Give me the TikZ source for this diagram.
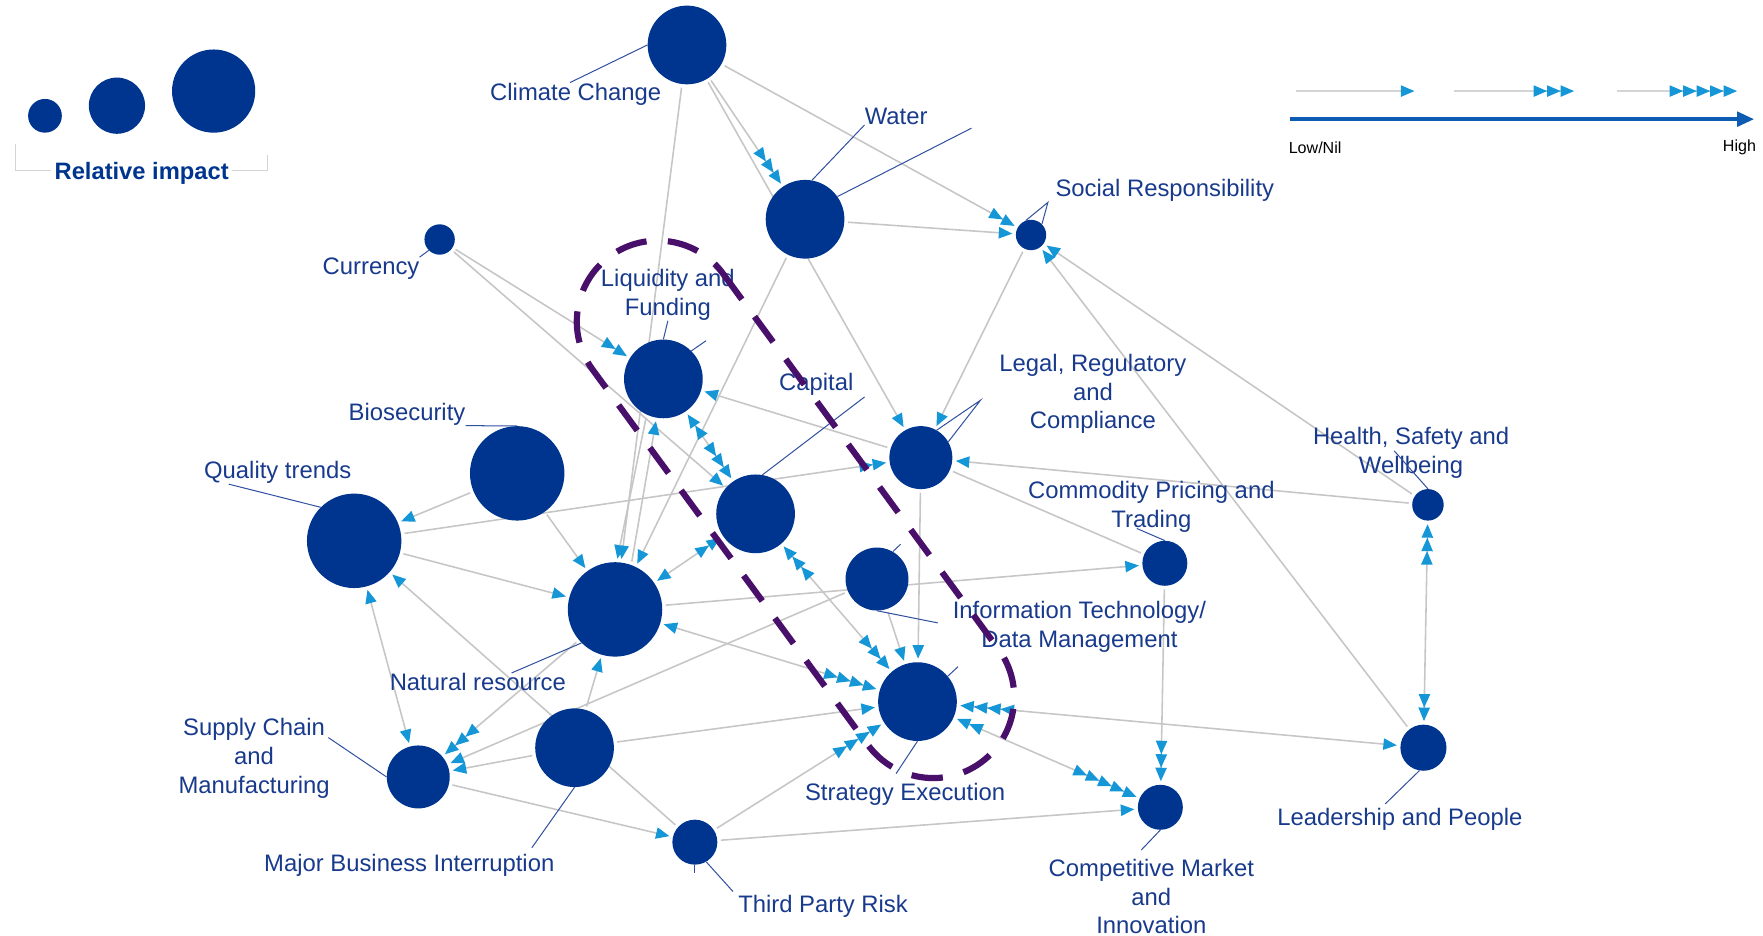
\documentclass[tikz,border=0pt]{standalone}
\usepackage{fontspec}
\setmainfont{Liberation Sans}
\usetikzlibrary{arrows.meta, backgrounds}

\definecolor{riskblue}{RGB}{0,53,143}
\definecolor{lblblue}{RGB}{24,58,140}
\definecolor{leadblue}{RGB}{50,80,160}
\definecolor{edgegrey}{RGB}{198,198,198}
\definecolor{tipblue}{RGB}{20,150,215}
\definecolor{loopviolet}{RGB}{72,16,106}
\definecolor{scaleblue}{RGB}{12,92,180}
\definecolor{legendgrey}{RGB}{212,212,212}

\begin{document}
\begin{tikzpicture}[x=1pt, y=-1pt,
        >={Triangle[length=12pt, width=10pt, color=tipblue]},
        risk/.style = {circle, fill=riskblue, inner sep=0pt, minimum size=#1},
        lbl/.style = {text=lblblue, align=center, inner sep=0pt, yshift=-2.5pt,
            font=\fontsize{21.2}{25.5}\selectfont},
        edge/.style = {draw=edgegrey, line width=1.4pt, shorten >=3pt, shorten <=3pt},
        lead/.style = {draw=leadblue, line width=0.9pt}]
        \useasboundingbox (0,0) rectangle (1568,832);

        % risks
        \node [risk=70pt] (cc) at (611,40) {};
        \node [risk=70pt] (wat) at (716,195) {};
        \node [risk=27pt] (soc) at (917,209) {};
        \node [risk=27pt] (cur) at (391,213) {};
        \node [risk=70pt] (liq) at (590,337) {};
        \node [risk=70pt] (cap) at (672,457) {};
        \node [risk=56pt] (leg) at (819,407) {};
        \node [risk=84pt] (bio) at (460,421) {};
        \node [risk=84pt] (qua) at (315,481) {};
        \node [risk=84pt] (nat) at (547,542) {};
        \node [risk=56pt] (it) at (780,515) {};
        \node [risk=40pt] (com) at (1036,501) {};
        \node [risk=28pt] (hsw) at (1270,449) {};
        \node [risk=70pt] (str) at (816,624) {};
        \node [risk=70pt] (mbi) at (511,665) {};
        \node [risk=56pt] (sup) at (372,691) {};
        \node [risk=40pt] (tpr) at (618,749) {};
        \node [risk=40pt] (cmi) at (1032,718) {};
        \node [risk=41pt] (lea) at (1266,665) {};

        \node [lbl] (lcc) at (512,81) {Climate Change};
        \node [lbl] (lwat) at (797,101) {Water};
        \node [lbl] (lsoc) at (1036,167) {Social Responsibility};
        \node [lbl] (lcur) at (330,236) {Currency};
        \node [lbl] (lliq) at (594,260) {Liquidity and\\Funding};
        \node [lbl] (lcap) at (726,339) {Capital};
        \node [lbl] (lleg) at (972,348) {Legal, Regulatory\\and\\Compliance};
        \node [lbl] (lbio) at (362,366) {Biosecurity};
        \node [lbl] (lqua) at (247,418) {Quality trends};
        \node [lbl] (lhsw) at (1255,400) {Health, Safety and\\Wellbeing};
        \node [lbl] (lcom) at (1024,448) {Commodity Pricing and\\Trading};
        \node [lbl] (lit) at (960,555) {Information Technology/\\Data Management};
        \node [lbl] (lnat) at (425,604) {Natural resource};
        \node [lbl] (lsup) at (226,672) {Supply Chain\\and\\Manufacturing};
        \node [lbl] (lstr) at (805,704) {Strategy Execution};
        \node [lbl] (llea) at (1245,726) {Leadership and People};
        \node [lbl] (lmbi) at (364,767) {Major Business Interruption};
        \node [lbl] (ltpr) at (732,804) {Third Party Risk};
        \node [lbl] (lcmi) at (1024,795) {Competitive Market\\and\\Innovation};

        \begin{scope}[on background layer]
        \draw [edge, ->>>] (cc) -- (wat);
        \draw [edge, ->] (cc) -- (leg);
        \draw [edge, ->>] (cc) -- (soc);
        \draw [edge, ->] (cc) -- (nat);
        \draw [edge, ->] (wat) -- (soc);
        \draw [edge, ->] (wat) -- (nat);
        \draw [edge, ->] (soc) -- (leg);
        \draw [edge, ->] (hsw) -- (soc);
        \draw [edge, ->] (lea) -- (soc);
        \draw [edge, ->>] (cur) -- (liq);
        \draw [edge, ->] (cur) -- (cap);
        \draw [edge, <<->>>] (liq) -- (cap);
        \draw [edge, ->] (leg) -- (liq);
        \draw [edge, ->] (liq.245) -- (nat.88);
        \draw [edge, ->] (nat.70) -- (liq.260);
        \draw [edge, <<->] (cap) -- (nat);
        \draw [edge, <<<->>>] (cap) -- (str);
        \draw [edge, ->>] (qua) -- (leg);
        \draw [edge, ->] (qua) -- (nat);
        \draw [edge, ->] (bio) -- (nat);
        \draw [edge, ->] (bio) -- (qua);
        \draw [edge, ->] (tpr) -- (qua);
        \draw [edge, <->] (qua) -- (sup);
        \draw [edge, ->>>] (nat) -- (sup);
        \draw [edge, ->] (mbi) -- (nat);
        \draw [edge, ->] (nat) -- (com);
        \draw [edge, <->>>>] (nat) -- (str);
        \draw [edge, ->] (it) -- (sup);
        \draw [edge, ->] (mbi) -- (sup);
        \draw [edge, ->] (sup) -- (tpr);
        \draw [edge, ->>>>] (tpr) -- (str);
        \draw [edge, ->] (tpr) -- (cmi);
        \draw [edge, ->] (mbi) -- (str);
        \draw [edge, ->] (leg) -- (str);
        \draw [edge] (leg) -- (com);
        \draw [edge, ->] (hsw) -- (leg);
        \draw [edge, ->] (it) -- (str);
        \draw [edge, <<<<->] (str) -- (lea);
        \draw [edge, <<->>>>>] (str) -- (cmi);
        \draw [edge, ->>>] (com) -- (cmi);
        \draw [edge, <<<->>] (hsw) -- (lea);
        \end{scope}

        % leaders
        \coordinate (wtail) at (864,114);
        \coordinate (sapex) at (932,180);
        \coordinate (ltick) at (628,303);
        \coordinate (captail) at (769,353);
        \coordinate (lapex) at (872,356);
        \coordinate (suptail) at (292,656);
        \coordinate (mbitail) at (473,754);
        \coordinate (tprtail) at (652,793);
        \coordinate (tprtick) at (618,776);
        \coordinate (strtail) at (797,688);
        \coordinate (strtick) at (852,593);
        \coordinate (ittick) at (801,484);
        \coordinate (ittail) at (834,554);
        \coordinate (comtail) at (1011,470);
        \coordinate (hswtail) at (1240,401);
        \coordinate (leatail) at (1232,715);
        \coordinate (cmitail) at (1015,756);
        \draw [lead] ([xshift=-5pt]lcc.north) -- (cc.west);
        \draw [lead] (lwat.south west) -- (wat.80);
        \draw [lead] (wat.35) -- (wtail);
        \draw [lead] (soc.110) -- (sapex) -- (soc.45);
        \draw [lead] (cur.225) -- (lcur.north east);
        \draw [lead] (lliq.south) -- (liq.north);
        \draw [lead] (liq.45) -- (ltick);
        \draw [lead] (captail) -- (cap.80);
        \draw [lead] (leg.60) -- (lapex) -- (leg.30);
        \draw [lead] (lbio.south east) -- (bio.north);
        \draw [lead] ([xshift=22pt]lqua.south west) -- (qua.135);
        \draw [lead] ([xshift=30pt]lnat.north) -- (nat.225);
        \draw [lead] (suptail) -- (sup.180);
        \draw [lead] (mbi.270) -- (mbitail);
        \draw [lead] (tpr.300) -- (tprtail);
        \draw [lead] (tpr.south) -- (tprtick);
        \draw [lead] (str.270) -- (strtail);
        \draw [lead] (str.40) -- (strtick);
        \draw [lead] (it.60) -- (ittick);
        \draw [lead] (it.270) -- (ittail);
        \draw [lead] (comtail) -- (com.90);
        \draw [lead] (hswtail) -- (hsw.90);
        \draw [lead] (lea.260) -- (leatail);
        \draw [lead] (cmi.270) -- (cmitail);

        \draw [draw=loopviolet, line width=5.5pt, dash pattern=on 28pt off 19pt]
            (585,286) ++(-36:72) -- ++(245,334)
            arc [start angle=-36, end angle=144, radius=72] -- ++(-245,-334)
            arc [start angle=144, end angle=324, radius=72] -- cycle;

        % relative impact
        \node [risk=30pt] (r1) at (40,103) {};
        \node [risk=50pt] (r2) at (104,94) {};
        \node [risk=74pt] (r3) at (190,81) {};
        \draw [draw=legendgrey, line width=1pt] (14,128) |- (238,152) -- (238,138);
        \node [text=riskblue, fill=white, inner sep=3pt, yshift=-2pt,
            font=\bfseries\fontsize{21.1}{25}\selectfont] (rel) at (126,152) {Relative impact};

        % strength scale
        \coordinate (s1a) at (1153,81);
        \coordinate (s1b) at (1258,81);
        \coordinate (s2a) at (1293,81);
        \coordinate (s2b) at (1400,81);
        \coordinate (s3a) at (1438,81);
        \coordinate (s3b) at (1545,81);
        \coordinate (sa) at (1147,106);
        \coordinate (sb) at (1560,106);
        \draw [draw=legendgrey, line width=1.2pt, ->] (s1a) -- (s1b);
        \draw [draw=legendgrey, line width=1.2pt, ->>>] (s2a) -- (s2b);
        \draw [draw=legendgrey, line width=1.2pt, ->>>>>] (s3a) -- (s3b);
        \draw [draw=scaleblue, line width=3pt, -{Triangle[length=15pt, width=13pt]}] (sa) -- (sb);
        \node [anchor=west, inner sep=0pt, font=\fontsize{14.3}{17}\selectfont] (low) at (1146,131) {Low/Nil};
        \node [anchor=east, inner sep=0pt, font=\fontsize{14.3}{17}\selectfont] (high) at (1562,131) {High};
\end{tikzpicture}
\end{document}
